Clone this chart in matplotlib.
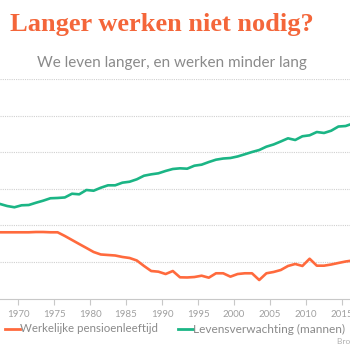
import numpy as np
import matplotlib
matplotlib.use("Agg")
import matplotlib.pyplot as plt

# Jaren en waarden
years = np.arange(1967, 2017)

pensioen = [64.07, 64.07, 64.07, 64.07, 64.07, 64.11, 64.11, 64.07, 64.07, 63.57,
            63.02, 62.47, 61.93, 61.38, 61.04, 60.97, 60.90, 60.70, 60.56, 60.22,
            59.47, 58.78, 58.69, 58.37, 58.78, 57.92, 57.90, 57.96, 58.14, 57.87,
            58.47, 58.47, 58.01, 58.37, 58.47, 58.47, 57.55, 58.47, 58.65, 58.92,
            59.47, 59.74, 59.47, 60.46, 59.51, 59.51, 59.67, 59.88, 60.08, 60.22]

levensverwachting = [67.94, 67.66, 67.49, 67.76, 67.80, 68.11, 68.39, 68.72, 68.76, 68.83,
                     69.34, 69.26, 69.85, 69.75, 70.16, 70.49, 70.49, 70.85, 70.98, 71.31,
                     71.80, 71.99, 72.13, 72.45, 72.72, 72.81, 72.76, 73.17, 73.31, 73.67,
                     73.99, 74.15, 74.22, 74.43, 74.73, 75.04, 75.31, 75.77, 76.07, 76.48,
                     76.91, 76.68, 77.19, 77.32, 77.77, 77.64, 77.95, 78.52, 78.59, 78.93]

tick_years = [1970, 1975, 1980, 1985, 1990, 1995, 2000, 2005, 2010, 2015]

ORANGE = "#FF6A3D"
GREEN = "#1BB585"
GRAY = "#8a8a8a"

plt.rcParams["font.family"] = ["Lato", "DejaVu Sans"]

fig = plt.figure(figsize=(3.5, 3.5), dpi=100)
ax = fig.add_axes([0, 0.1466, 1, 0.6274])

# waarden staan midden in het jaar
ax.plot(years + 0.5, pensioen, color=ORANGE, lw=1.9, solid_joinstyle="round")
ax.plot(years + 0.5, levensverwachting, color=GREEN, lw=1.9, solid_joinstyle="round")

ax.set_xlim(1967.5, 2016.11)
ax.set_ylim(55, 85)
ax.set_yticks(np.arange(60, 86, 5))
ax.yaxis.grid(True, color="#d0d0d0", linestyle=(0, (1, 1)), linewidth=0.8)
ax.set_axisbelow(True)
ax.tick_params(axis="y", left=False, labelleft=False)

ax.set_xticks(tick_years)
ax.set_xticklabels([str(y) for y in tick_years])
ax.tick_params(axis="x", length=4, width=0.8, color="#c8c8c8", labelsize=7,
               labelcolor="#a0a0a0", pad=4)

for side in ["top", "left", "right"]:
    ax.spines[side].set_visible(False)
ax.spines["bottom"].set_color("#c8c8c8")
ax.spines["bottom"].set_linewidth(0.8)

# titel en ondertitel
fig.text(10 / 350, 1 - 25 / 350, "Langer werken niet nodig?", color="#F4663A",
         fontsize=19, fontweight="bold", family="Liberation Serif", va="center", ha="left")
fig.text(172 / 350, 1 - 63 / 350, "We leven langer, en werken minder lang",
         color=GRAY, fontsize=11, va="center", ha="center")

# legenda
fig.add_artist(plt.Line2D([5 / 350, 20 / 350], [1 - 329 / 350] * 2, color=ORANGE, lw=2))
fig.text(20 / 350, 1 - 329 / 350, "Werkelijke pensioenleeftijd", color=GRAY,
         fontsize=8.3, va="center", ha="left")
fig.add_artist(plt.Line2D([178 / 350, 193 / 350], [1 - 329 / 350] * 2, color=GREEN, lw=2))
fig.text(193 / 350, 1 - 329 / 350, "Levensverwachting (mannen)", color=GRAY,
         fontsize=8.6, va="center", ha="left")

fig.text(337 / 350, 1 - 342 / 350, "Bron: CBS", color="#b0b0b0", fontsize=6,
         va="center", ha="left")

fig.savefig("out.png", dpi=100, facecolor="white")
